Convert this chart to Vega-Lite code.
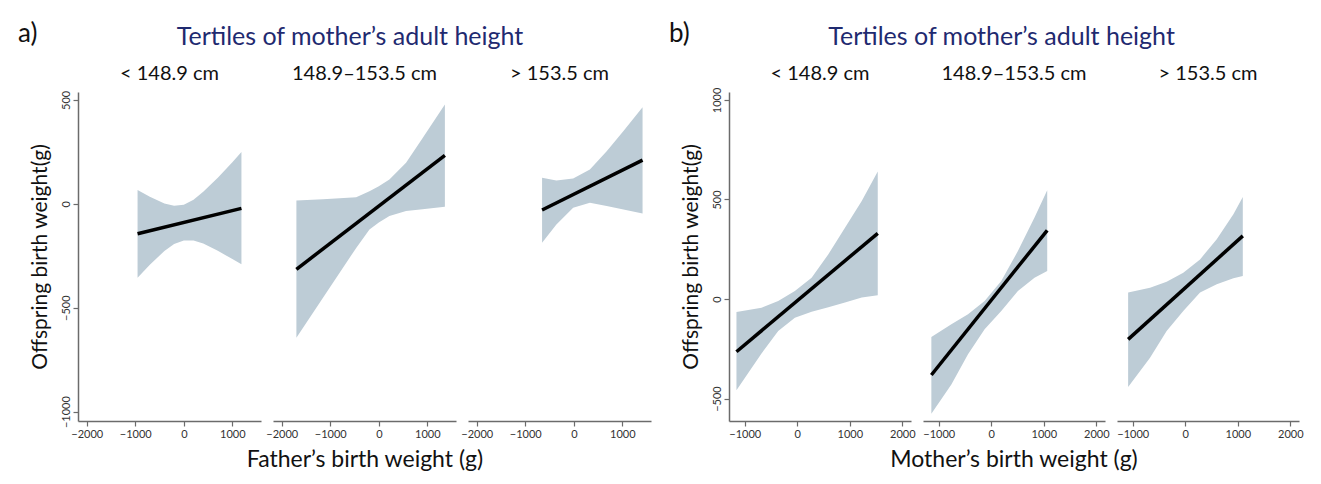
{
  "$schema": "https://vega.github.io/schema/vega-lite/v6.json",
  "background": "white",
  "padding": {"left": 18, "top": 21, "right": 5, "bottom": 5},
  "spacing": 18,
  "config": {
    "font": "Lato",
    "view": {"stroke": null},
    "axis": {
      "grid": false,
      "domainColor": "#6b6b6b",
      "domainWidth": 1.5,
      "tickColor": "#6b6b6b",
      "tickWidth": 1.2,
      "tickSize": 5,
      "labelFont": "Lato",
      "labelFontSize": 11,
      "labelColor": "#333333",
      "labelPadding": 2,
      "titleFont": "Lato",
      "titleFontWeight": "normal",
      "titleColor": "#111111",
      "titleFontSize": 21
    },
    "header": {
      "labelFont": "Lato",
      "labelFontSize": 20,
      "labelColor": "#111111",
      "titleFont": "Lato",
      "titleFontSize": 23,
      "titleFontWeight": "normal",
      "titleColor": "#111111"
    },
    "title": {"font": "Lato", "fontWeight": "normal"}
  },
  "datasets": {
    "a": [
      {"t": "< 148.9 cm", "k": "band", "x": -953, "lo": -356, "hi": 66},
      {"t": "< 148.9 cm", "k": "band", "x": -700, "lo": -293, "hi": 34},
      {"t": "< 148.9 cm", "k": "band", "x": -400, "lo": -227, "hi": 2},
      {"t": "< 148.9 cm", "k": "band", "x": -200, "lo": -193, "hi": -9},
      {"t": "< 148.9 cm", "k": "band", "x": 0, "lo": -176, "hi": -5},
      {"t": "< 148.9 cm", "k": "band", "x": 200, "lo": -176, "hi": 20},
      {"t": "< 148.9 cm", "k": "band", "x": 400, "lo": -191, "hi": 58},
      {"t": "< 148.9 cm", "k": "band", "x": 700, "lo": -226, "hi": 126},
      {"t": "< 148.9 cm", "k": "band", "x": 1000, "lo": -266, "hi": 200},
      {"t": "< 148.9 cm", "k": "band", "x": 1187, "lo": -291, "hi": 249},
      {"t": "< 148.9 cm", "k": "fit", "x": -953, "fit": -144},
      {"t": "< 148.9 cm", "k": "fit", "x": 1187, "fit": -22},
      {"t": "148.9–153.5 cm", "k": "band", "x": -1698, "lo": -644, "hi": 16},
      {"t": "148.9–153.5 cm", "k": "band", "x": -1150, "lo": -452, "hi": 22},
      {"t": "148.9–153.5 cm", "k": "band", "x": -466, "lo": -212, "hi": 32},
      {"t": "148.9–153.5 cm", "k": "band", "x": -193, "lo": -123, "hi": 61},
      {"t": "148.9–153.5 cm", "k": "band", "x": 0, "lo": -90, "hi": 85},
      {"t": "148.9–153.5 cm", "k": "band", "x": 218, "lo": -59, "hi": 117},
      {"t": "148.9–153.5 cm", "k": "band", "x": 561, "lo": -35, "hi": 197},
      {"t": "148.9–153.5 cm", "k": "band", "x": 900, "lo": -26, "hi": 316},
      {"t": "148.9–153.5 cm", "k": "band", "x": 1361, "lo": -14, "hi": 478},
      {"t": "148.9–153.5 cm", "k": "fit", "x": -1698, "fit": -315},
      {"t": "148.9–153.5 cm", "k": "fit", "x": 1361, "fit": 233},
      {"t": "> 153.5 cm", "k": "band", "x": -654, "lo": -187, "hi": 125},
      {"t": "> 153.5 cm", "k": "band", "x": -359, "lo": -99, "hi": 112},
      {"t": "> 153.5 cm", "k": "band", "x": -14, "lo": -19, "hi": 122},
      {"t": "> 153.5 cm", "k": "band", "x": 331, "lo": 5, "hi": 165},
      {"t": "> 153.5 cm", "k": "band", "x": 677, "lo": -11, "hi": 253},
      {"t": "> 153.5 cm", "k": "band", "x": 1023, "lo": -27, "hi": 350},
      {"t": "> 153.5 cm", "k": "band", "x": 1416, "lo": -46, "hi": 465},
      {"t": "> 153.5 cm", "k": "fit", "x": -654, "fit": -30},
      {"t": "> 153.5 cm", "k": "fit", "x": 1416, "fit": 210}
    ],
    "b": [
      {"t": "< 148.9 cm", "k": "band", "x": -1158, "lo": -459, "hi": -65},
      {"t": "< 148.9 cm", "k": "band", "x": -681, "lo": -274, "hi": -44},
      {"t": "< 148.9 cm", "k": "band", "x": -363, "lo": -161, "hi": -10},
      {"t": "< 148.9 cm", "k": "band", "x": -46, "lo": -94, "hi": 40},
      {"t": "< 148.9 cm", "k": "band", "x": 273, "lo": -64, "hi": 107},
      {"t": "< 148.9 cm", "k": "band", "x": 592, "lo": -42, "hi": 225},
      {"t": "< 148.9 cm", "k": "band", "x": 908, "lo": -18, "hi": 358},
      {"t": "< 148.9 cm", "k": "band", "x": 1227, "lo": 7, "hi": 492},
      {"t": "< 148.9 cm", "k": "band", "x": 1532, "lo": 19, "hi": 640},
      {"t": "< 148.9 cm", "k": "fit", "x": -1158, "fit": -265},
      {"t": "< 148.9 cm", "k": "fit", "x": 1532, "fit": 330},
      {"t": "148.9–153.5 cm", "k": "band", "x": -1141, "lo": -576, "hi": -191},
      {"t": "148.9–153.5 cm", "k": "band", "x": -760, "lo": -429, "hi": -127},
      {"t": "148.9–153.5 cm", "k": "band", "x": -443, "lo": -278, "hi": -77},
      {"t": "148.9–153.5 cm", "k": "band", "x": -127, "lo": -152, "hi": -10},
      {"t": "148.9–153.5 cm", "k": "band", "x": 190, "lo": -60, "hi": 90},
      {"t": "148.9–153.5 cm", "k": "band", "x": 507, "lo": 40, "hi": 241},
      {"t": "148.9–153.5 cm", "k": "band", "x": 823, "lo": 107, "hi": 409},
      {"t": "148.9–153.5 cm", "k": "band", "x": 1065, "lo": 141, "hi": 546},
      {"t": "148.9–153.5 cm", "k": "fit", "x": -1141, "fit": -382},
      {"t": "148.9–153.5 cm", "k": "fit", "x": 1065, "fit": 345},
      {"t": "> 153.5 cm", "k": "band", "x": -1088, "lo": -442, "hi": 32},
      {"t": "> 153.5 cm", "k": "band", "x": -671, "lo": -295, "hi": 57},
      {"t": "> 153.5 cm", "k": "band", "x": -355, "lo": -161, "hi": 87},
      {"t": "> 153.5 cm", "k": "band", "x": -38, "lo": -60, "hi": 132},
      {"t": "> 153.5 cm", "k": "band", "x": 281, "lo": 32, "hi": 199},
      {"t": "> 153.5 cm", "k": "band", "x": 599, "lo": 74, "hi": 300},
      {"t": "> 153.5 cm", "k": "band", "x": 916, "lo": 104, "hi": 426},
      {"t": "> 153.5 cm", "k": "band", "x": 1095, "lo": 116, "hi": 513},
      {"t": "> 153.5 cm", "k": "fit", "x": -1088, "fit": -203},
      {"t": "> 153.5 cm", "k": "fit", "x": 1095, "fit": 317}
    ]
  },
  "hconcat": [
    {
      "title": {"text": "a)", "anchor": "start", "frame": "bounds", "fontSize": 26, "color": "#111111", "offset": 0, "dx": -11, "dy": 22},
      "vconcat": [
        {
          "data": {"name": "a"},
          "title": {"text": "Tertiles of mother’s adult height", "anchor": "middle", "frame": "bounds", "color": "#1f2a70", "fontSize": 25, "dx": 10, "offset": 14},
          "spacing": 12,
          "facet": {
            "column": {
              "field": "t", "type": "nominal",
              "sort": ["< 148.9 cm", "148.9–153.5 cm", "> 153.5 cm"],
              "header": {"title": "Father’s birth weight (g)", "titleOrient": "bottom", "labelOrient": "top", "labelPadding": 8, "titlePadding": 0}
            }
          },
          "spec": {
            "width": 183,
            "height": 329,
            "layer": [
              {
                "transform": [{"filter": "datum.k == 'band'"}],
                "mark": {"type": "area", "color": "#bdccd6", "opacity": 1},
                "encoding": {
                  "x": {"field": "x", "type": "quantitative", "scale": {"domain": [-2180, 1590], "nice": false, "zero": false}, "axis": {"values": [-2000, -1000, 0, 1000], "format": "d", "title": null}},
                  "y": {"field": "lo", "type": "quantitative", "scale": {"domain": [-1045, 538], "nice": false, "zero": false}, "axis": {"values": [-1000, -500, 0, 500], "format": "d", "title": "Offspring birth weight(g)", "labelAngle": 270, "titlePadding": 10}},
                  "y2": {"field": "hi"}
                }
              },
              {
                "transform": [{"filter": "datum.k == 'fit'"}],
                "mark": {"type": "line", "color": "#000000", "strokeWidth": 3.5},
                "encoding": {
                  "x": {"field": "x", "type": "quantitative"},
                  "y": {"field": "fit", "type": "quantitative", "title": "Offspring birth weight(g)"}
                }
              }
            ]
          }
        }
      ]
    },
    {
      "title": {"text": "b)", "anchor": "start", "frame": "bounds", "fontSize": 26, "color": "#111111", "offset": 0, "dx": -11, "dy": 22},
      "vconcat": [
        {
          "data": {"name": "b"},
          "title": {"text": "Tertiles of mother’s adult height", "anchor": "middle", "frame": "bounds", "color": "#1f2a70", "fontSize": 25, "dx": 10, "offset": 14},
          "spacing": 12,
          "facet": {
            "column": {
              "field": "t", "type": "nominal",
              "sort": ["< 148.9 cm", "148.9–153.5 cm", "> 153.5 cm"],
              "header": {"title": "Mother’s birth weight (g)", "titleOrient": "bottom", "labelOrient": "top", "labelPadding": 8, "titlePadding": 0}
            }
          },
          "spec": {
            "width": 182,
            "height": 329,
            "layer": [
              {
                "transform": [{"filter": "datum.k == 'band'"}],
                "mark": {"type": "area", "color": "#bdccd6", "opacity": 1},
                "encoding": {
                  "x": {"field": "x", "type": "quantitative", "scale": {"domain": [-1300, 2165], "nice": false, "zero": false}, "axis": {"values": [-1000, 0, 1000, 2000], "format": "d", "title": null}},
                  "y": {"field": "lo", "type": "quantitative", "scale": {"domain": [-613, 1040], "nice": false, "zero": false}, "axis": {"values": [-500, 0, 500, 1000], "format": "d", "title": "Offspring birth weight(g)", "labelAngle": 270, "titlePadding": 10}},
                  "y2": {"field": "hi"}
                }
              },
              {
                "transform": [{"filter": "datum.k == 'fit'"}],
                "mark": {"type": "line", "color": "#000000", "strokeWidth": 3.5},
                "encoding": {
                  "x": {"field": "x", "type": "quantitative"},
                  "y": {"field": "fit", "type": "quantitative", "title": "Offspring birth weight(g)"}
                }
              }
            ]
          }
        }
      ]
    }
  ]
}
